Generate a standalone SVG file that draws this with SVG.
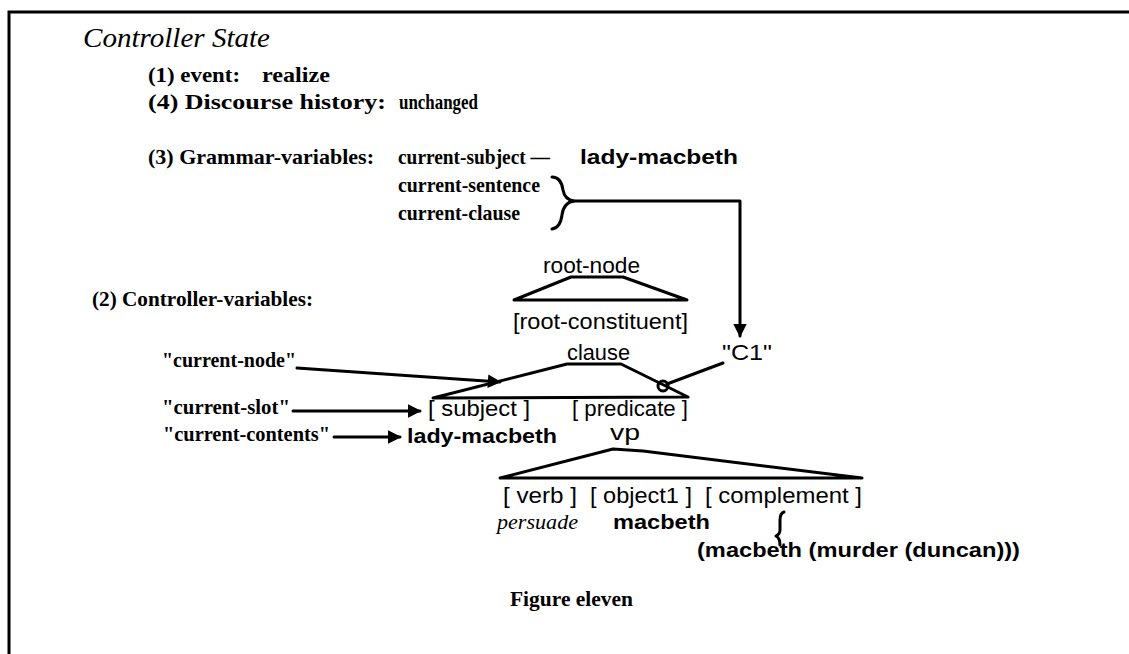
<svg xmlns="http://www.w3.org/2000/svg" width="1129" height="654" viewBox="0 0 1129 654">
  <style>
    .serif { font-family: "Liberation Serif", "Times New Roman", serif; font-weight: bold; font-size: 21px; fill: #000; }
    .ital { font-family: "Liberation Serif", "Times New Roman", serif; font-style: italic; fill: #000; }
    .sans { font-family: "Liberation Sans", Arial, sans-serif; font-size: 22px; fill: #000; }
    .sansb { font-family: "Liberation Sans", Arial, sans-serif; font-size: 21px; font-weight: bold; fill: #000; }
    .ln { fill: none; stroke: #000; stroke-width: 3; stroke-linecap: round; stroke-linejoin: round; }
  </style>
  <defs>
    <marker id="arrow" viewBox="0 0 10 10" refX="9" refY="5" markerWidth="4.5" markerHeight="4.5" orient="auto" markerUnits="strokeWidth">
      <path d="M0,0 L10,5 L0,10 Z" fill="#000"/>
    </marker>
  </defs>
  <rect width="1129" height="654" fill="#fff"/>

  <!-- frame: top and left rules only -->
  <path d="M9,654 V12 H1129" fill="none" stroke="#000" stroke-width="3"/>

  <g id="title">
    <text class="ital" x="83" y="47" font-size="27" textLength="187" lengthAdjust="spacingAndGlyphs">Controller State</text>
  </g>

  <g id="event">
    <text class="serif" x="148" y="82" textLength="92" lengthAdjust="spacingAndGlyphs">(1) event:</text>
    <text class="serif" x="262" y="82" textLength="68" lengthAdjust="spacingAndGlyphs">realize</text>
  </g>

  <g id="discourse-history">
    <text class="serif" x="148" y="109" textLength="238" lengthAdjust="spacingAndGlyphs">(4) Discourse history:</text>
    <text class="serif" x="399" y="109" textLength="79" lengthAdjust="spacingAndGlyphs">unchanged</text>
  </g>

  <g id="grammar-variables">
    <text class="serif" x="148" y="164" textLength="226" lengthAdjust="spacingAndGlyphs">(3) Grammar-variables:</text>
    <text class="serif" x="398" y="164" textLength="152" lengthAdjust="spacingAndGlyphs">current-subject —</text>
    <text class="sansb" x="580" y="164" textLength="158" lengthAdjust="spacingAndGlyphs">lady-macbeth</text>
    <text class="serif" x="398" y="192" textLength="142" lengthAdjust="spacingAndGlyphs">current-sentence</text>
    <text class="serif" x="398" y="220" textLength="122" lengthAdjust="spacingAndGlyphs">current-clause</text>
    <path class="ln" d="M552,177 C559,177 562,183 563,190 C564,196 567,200 574,201 C567,202 563,207 562,215 C561,223 558,228 552,229"/>
  </g>

  <g id="controller-variables">
    <text class="serif" x="92" y="306" textLength="221" lengthAdjust="spacingAndGlyphs">(2) Controller-variables:</text>
    <text class="serif" x="162" y="367" textLength="134" lengthAdjust="spacingAndGlyphs">"current-node"</text>
    <text class="serif" x="162" y="414" textLength="128" lengthAdjust="spacingAndGlyphs">"current-slot"</text>
    <text class="serif" x="163" y="441" textLength="167" lengthAdjust="spacingAndGlyphs">"current-contents"</text>
  </g>

  <g id="root-node">
    <text class="sans" x="543" y="273" textLength="97" lengthAdjust="spacingAndGlyphs">root-node</text>
    <path class="ln" d="M514,300 L571,277 H623 L687,300 Z"/>
    <text class="sans" x="513" y="329" textLength="175" lengthAdjust="spacingAndGlyphs">[root-constituent]</text>
  </g>

  <g id="clause">
    <text class="sans" x="567" y="360" textLength="63" lengthAdjust="spacingAndGlyphs">clause</text>
    <path class="ln" d="M433,398 L567,364 H621 L688,397 Z"/>
    <circle cx="663" cy="386" r="5" fill="none" stroke="#000" stroke-width="3"/>
    <text class="sans" x="428" y="416" textLength="102" lengthAdjust="spacingAndGlyphs">[ subject ]</text>
    <text class="sans" x="572" y="416" textLength="116" lengthAdjust="spacingAndGlyphs">[ predicate ]</text>
  </g>

  <g id="c1">
    <text class="sans" x="722" y="360" textLength="50" lengthAdjust="spacingAndGlyphs">"C1"</text>
  </g>

  <g id="subject-contents">
    <text class="sansb" x="407" y="443" textLength="150" lengthAdjust="spacingAndGlyphs">lady-macbeth</text>
  </g>

  <g id="vp">
    <text class="sans" x="610" y="440" textLength="30" lengthAdjust="spacingAndGlyphs">vp</text>
    <path class="ln" d="M500,478 L613,449 L643,451 L862,478 Z"/>
    <text class="sans" x="503" y="503" textLength="74" lengthAdjust="spacingAndGlyphs">[ verb ]</text>
    <text class="sans" x="590" y="503" textLength="102" lengthAdjust="spacingAndGlyphs">[ object1 ]</text>
    <text class="sans" x="705" y="503" textLength="157" lengthAdjust="spacingAndGlyphs">[ complement ]</text>
    <text class="ital" x="497" y="529" font-size="21" textLength="81" lengthAdjust="spacingAndGlyphs">persuade</text>
    <text class="sansb" x="613" y="529" textLength="97" lengthAdjust="spacingAndGlyphs">macbeth</text>
    <path class="ln" d="M784,512 C781,513 780,516 780,520 V530 C780,533 778,535 776,536 C778,537 780,539 780,545"/>
    <text class="sansb" x="697" y="557" textLength="323" lengthAdjust="spacingAndGlyphs">(macbeth (murder (duncan)))</text>
  </g>

  <g id="connectors">
    <path class="ln" d="M574,201 H740 V336" marker-end="url(#arrow)"/>
    <path class="ln" d="M297,368 L500,382" marker-end="url(#arrow)"/>
    <path class="ln" d="M293,411 H420" marker-end="url(#arrow)"/>
    <path class="ln" d="M334,437 H400" marker-end="url(#arrow)"/>
    <path class="ln" d="M723,363 L667,384"/>
  </g>

  <g id="caption">
    <text class="serif" x="510" y="606" textLength="123" lengthAdjust="spacingAndGlyphs">Figure eleven</text>
  </g>
</svg>
